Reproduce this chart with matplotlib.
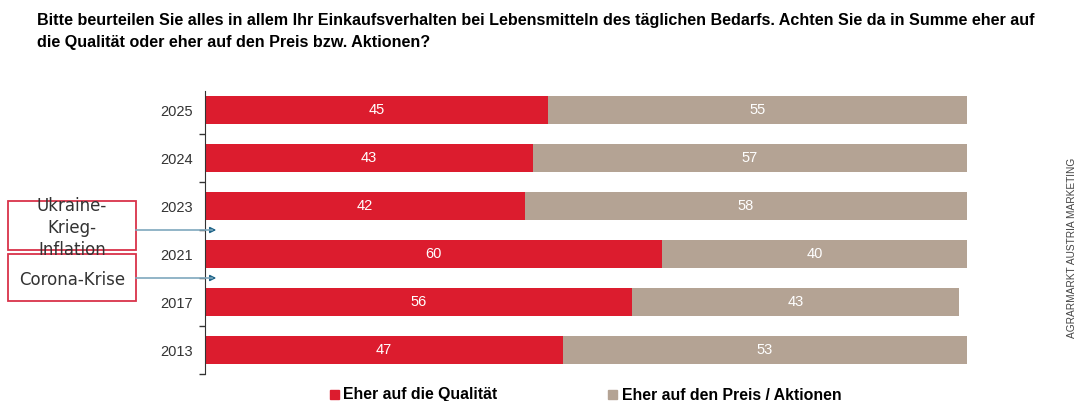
import matplotlib.pyplot as plt
import numpy as np

plt.rcParams['font.family'] = ['Liberation Sans', 'DejaVu Sans']

# data
years = ['2025', '2024', '2023', '2021', '2017', '2013']
quality = [45, 43, 42, 60, 56, 47]
price = [55, 57, 58, 40, 43, 53]
red = '#dc1c2e'
grey = '#b4a394'

fig = plt.figure(figsize=(10.81, 4.01), dpi=100)
ax = fig.add_axes([205/1081, 1 - 374/401, (967 - 205)/1081, 288/401])

y = np.arange(len(years))
ax.barh(y, quality, height=0.59, color=red)
ax.barh(y, price, left=quality, height=0.59, color=grey)

for i in range(len(years)):
    ax.text(quality[i] / 2, y[i], str(quality[i]), ha='center', va='center', color='white', fontsize=10.5)
    ax.text(quality[i] + price[i] / 2, y[i], str(price[i]), ha='center', va='center', color='white', fontsize=10.5)

ax.set_xlim(0, 100)
ax.set_ylim(len(years) - 0.5, -0.5)
ax.set_yticks(y)
ax.set_yticklabels(years, fontsize=10.5, color='#333333')
ax.set_yticks(np.arange(len(years)) + 0.5, minor=True)
ax.tick_params(axis='y', which='major', length=0, pad=9)
ax.tick_params(axis='y', which='minor', length=4, width=1, color='#333333')
ax.set_xticks([])
for s in ['top', 'right', 'bottom']:
    ax.spines[s].set_visible(False)
ax.spines['left'].set_color('#333333')
ax.spines['left'].set_bounds(len(years) - 0.5, -0.4)

# titel
fig.text(37/1081, 1 - 20/401, 'Bitte beurteilen Sie alles in allem Ihr Einkaufsverhalten bei Lebensmitteln des täglichen Bedarfs. Achten Sie da in Summe eher auf',
         fontsize=11.6, fontweight='bold', va='center', ha='left')
fig.text(37/1081, 1 - 42/401, 'die Qualität oder eher auf den Preis bzw. Aktionen?',
         fontsize=11.6, fontweight='bold', va='center', ha='left')

# Boxen mit Pfeilen
box1 = plt.Rectangle((8/1081, 1 - 250/401), 128/1081, 49/401, transform=fig.transFigure,
                     fill=False, edgecolor='#d9334a', lw=1.3)
box2 = plt.Rectangle((8/1081, 1 - 301/401), 128/1081, 47/401, transform=fig.transFigure,
                     fill=False, edgecolor='#d9334a', lw=1.3)
fig.add_artist(box1)
fig.add_artist(box2)
fig.text(72/1081, 1 - 228/401, 'Ukraine-\nKrieg-\nInflation', ha='center', va='center',
         fontsize=12, color='#333333', family='DejaVu Sans', linespacing=1.3)
fig.text(72/1081, 1 - 280/401, 'Corona-Krise', ha='center', va='center',
         fontsize=12, color='#333333', family='DejaVu Sans')
for yy in [230, 278]:
    fig.add_artist(plt.Line2D([136/1081, 212/1081], [1 - yy/401, 1 - yy/401],
                              transform=fig.transFigure, color='#7fa8bd', lw=1.2))
    ax.annotate('', xy=(219/1081, 1 - yy/401), xytext=(210/1081, 1 - yy/401),
                xycoords='figure fraction', textcoords='figure fraction',
                arrowprops=dict(arrowstyle='-|>', color='#1f6488', lw=1, mutation_scale=9),
                annotation_clip=False)

# Legende
fig.patches.append(plt.Rectangle((330/1081, 1 - 399/401), 9/1081, 9/401, transform=fig.transFigure, color=red))
fig.text(343/1081, 1 - 395/401, 'Eher auf die Qualität', fontsize=11.4, fontweight='bold', va='center')
fig.patches.append(plt.Rectangle((608/1081, 1 - 399/401), 9/1081, 9/401, transform=fig.transFigure, color=grey))
fig.text(622/1081, 1 - 395/401, 'Eher auf den Preis / Aktionen', fontsize=11.4, fontweight='bold', va='center')

fig.text(1072/1081, 1 - 248/401, 'AGRARMARKT AUSTRIA MARKETING', rotation=90, fontsize=7.3,
         color='#444444', ha='center', va='center')

fig.savefig('out.png', dpi=100)
